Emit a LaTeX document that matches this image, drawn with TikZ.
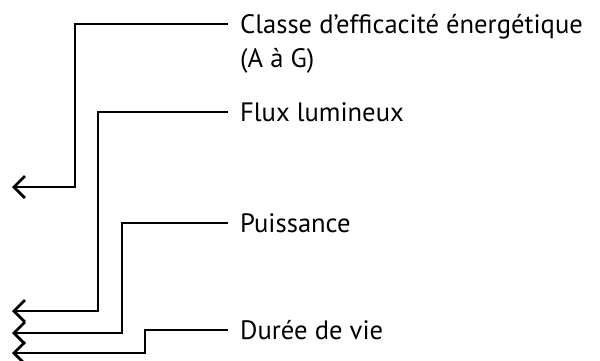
\documentclass[tikz,border=0pt]{standalone}
\usepackage{fontspec}
\setmainfont{PT Sans}
\usetikzlibrary{arrows.meta}
\begin{document}
\begin{tikzpicture}[x=1pt,y=-1pt,
  conn/.style={line width=2.7pt,-{Straight Barb[length=11pt,width=22pt,line width=2.7pt]}},
  lbl/.style={anchor=west,inner xsep=12pt,inner ysep=0pt,font=\fontsize{26.6}{32}\selectfont,text height=18pt,text depth=0pt}]
\useasboundingbox (0,0) rectangle (600,360);
\node[lbl] (t1) at (228,24) {Classe d'efficacité énergétique};
\node[lbl] (t1b) at (228,58) {(A à G)};
\node[lbl] (t2) at (228,112) {Flux lumineux};
\node[lbl] (t3) at (228,223) {Puissance};
\node[lbl] (t4) at (228,330) {Durée de vie};
\coordinate (c1) at (75,187);  \coordinate (e1) at (12,187);
\coordinate (c2) at (98,311);  \coordinate (e2) at (12,311);
\coordinate (c3) at (122,333); \coordinate (e3) at (12,333);
\coordinate (c4) at (145,353); \coordinate (e4) at (12,353);
\draw[conn] (t1.west) -| (c1) -- (e1);
\draw[conn] (t2.west) -| (c2) -- (e2);
\draw[conn] (t3.west) -| (c3) -- (e3);
\draw[conn] (t4.west) -| (c4) -- (e4);
\end{tikzpicture}
\end{document}
